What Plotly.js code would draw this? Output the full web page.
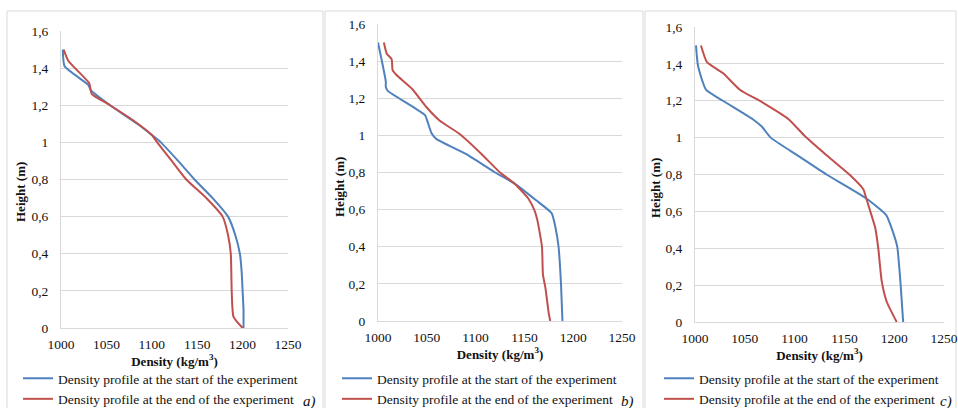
<!DOCTYPE html>
<html>
<head>
<meta charset="utf-8">
<script src="https://cdn.plot.ly/plotly-3.0.1.min.js"></script>
<style>html,body{margin:0;padding:0;background:#fff;}#chart{width:958px;height:408px;}</style>
</head>
<body>
<div id="chart"></div>
<script>
// ---- Data (height in m, density in kg/m3) ----
const seriesNames = ["Density profile at the start of the experiment", "Density profile at the end of the experiment"];
const panelLabels = ["a)", "b)", "c)"];
const xTickVals = [1000, 1050, 1100, 1150, 1200, 1250];
const yTickVals = [0, 0.2, 0.4, 0.6, 0.8, 1, 1.2, 1.4, 1.6];
const yTickText = ["0", "0,2", "0,4", "0,6", "0,8", "1", "1,2", "1,4", "1,6"];
const xTitle = "Density (kg/m<sup>3</sup>)";
const yTitle = "Height (m)";

// Panel a
const aStartH   = [1.5, 1.41, 1.31, 1.28, 1.2, 1.1, 1.04, 1.0, 0.9, 0.8, 0.7, 0.6, 0.5, 0.4, 0.3, 0.2, 0.1, 0];
const aStartRho = [1002, 1004, 1030, 1033, 1054, 1084, 1100, 1110, 1129, 1147, 1167, 1184, 1192, 1197, 1199, 1200, 1201, 1201];
const aEndH     = [1.5, 1.44, 1.32, 1.3, 1.26, 1.2, 1.11, 1.04, 1.0, 0.9, 0.8, 0.7, 0.6, 0.5, 0.4, 0.2, 0.06, 0];
const aEndRho   = [1003, 1008, 1031, 1032, 1034, 1054, 1082, 1100, 1106, 1122, 1138, 1160, 1178, 1184, 1187, 1188, 1190, 1200];

// Panel b
const bStartH   = [1.5, 1.4, 1.29, 1.26, 1.24, 1.11, 1.07, 1.01, 0.98, 0.9, 0.8, 0.74, 0.65, 0.58, 0.5, 0.4, 0.2, 0];
const bStartRho = [1000, 1004, 1008, 1008, 1010, 1048, 1051, 1055, 1060, 1090, 1120, 1140, 1162, 1178, 1182, 1185, 1187.5, 1189];
const bEndH     = [1.5, 1.44, 1.41, 1.35, 1.325, 1.25, 1.15, 1.08, 1.01, 0.9, 0.8, 0.74, 0.66, 0.6, 0.55, 0.4, 0.25, 0.18, 0.04, 0];
const bEndRho   = [1006, 1009, 1014, 1015, 1019, 1035, 1050, 1063, 1083, 1106, 1125, 1140, 1154, 1160, 1163, 1168, 1169, 1171.5, 1175, 1176.5];

// Panel c
const cStartH   = [1.5, 1.39, 1.26, 1.2, 1.1, 1.06, 1.0, 0.9, 0.8, 0.67, 0.58, 0.5, 0.41, 0.2, 0];
const cStartRho = [1001, 1003, 1011, 1028, 1058, 1067, 1076, 1104, 1132, 1172, 1192, 1198, 1203, 1206.5, 1209];
const cEndH     = [1.5, 1.41, 1.35, 1.26, 1.19, 1.1, 1.01, 0.9, 0.8, 0.72, 0.67, 0.6, 0.51, 0.4, 0.22, 0.11, 0];
const cEndRho   = [1006, 1012, 1028, 1045, 1068, 1094, 1110, 1133, 1155, 1169, 1172, 1176, 1181, 1184, 1187.5, 1192.5, 1202.5];

// ---- Styling / layout ----
const W = 958, H = 408;
const blue = "#4F81BD", red = "#C0504D";
const font = "Liberation Serif";
const txt = "#111";
const px = v => v / W, py = v => 1 - v / H;

const panels = [
  {start: [aStartRho, aStartH], end: [aEndRho, aEndH], x: [61, 288], y: [31, 328], leg: 18, lab: 309, box: [7, 323], yt: [20, 192]},
  {start: [bStartRho, bStartH], end: [bEndRho, bEndH], x: [378, 622], y: [24, 321], leg: 337, lab: 627, box: [325, 643], yt: [340, 187]},
  {start: [cStartRho, cStartH], end: [cEndRho, cEndH], x: [695, 944], y: [27, 322], leg: 659, lab: 946, box: [645, 956], yt: [656, 188]}
];

const traces = [];
const layout = {
  width: W, height: H,
  margin: {l: 0, r: 0, t: 0, b: 0, autoexpand: false},
  paper_bgcolor: "#fff", plot_bgcolor: "#fff",
  font: {family: font, color: txt, size: 13},
  showlegend: true,
  annotations: [], shapes: []
};

panels.forEach((p, i) => {
  const s = i === 0 ? "" : String(i + 1);
  const legName = "legend" + s;
  traces.push({
    x: p.start[0], y: p.start[1], xaxis: "x" + s, yaxis: "y" + s,
    type: "scatter", mode: "lines", name: seriesNames[0], legend: legName,
    line: {color: blue, width: 2, shape: "spline", smoothing: 0.5}
  });
  traces.push({
    x: p.end[0], y: p.end[1], xaxis: "x" + s, yaxis: "y" + s,
    type: "scatter", mode: "lines", name: seriesNames[1], legend: legName,
    line: {color: red, width: 2, shape: "spline", smoothing: 0.5}
  });
  layout["xaxis" + s] = {
    domain: [px(p.x[0]), px(p.x[1])], anchor: "y" + s,
    range: [1000, 1250], tickmode: "array", tickvals: xTickVals,
    showgrid: false, zeroline: false, showline: true, linecolor: "#D9D9D9", linewidth: 1,
    ticks: "outside", ticklen: 4, tickcolor: "rgba(0,0,0,0)",
    tickfont: {family: font, size: 13.5, color: txt},
    title: {text: "<b>" + xTitle + "</b>", font: {family: font, size: 13, color: txt}, standoff: 1}
  };
  layout["yaxis" + s] = {
    domain: [py(p.y[1]), py(p.y[0])], anchor: "x" + s,
    range: [0, 1.6], tickmode: "array", tickvals: yTickVals, ticktext: yTickText,
    showgrid: true, gridcolor: "#D9D9D9", gridwidth: 1,
    zeroline: false, showline: true, linecolor: "#D9D9D9", linewidth: 1,
    ticks: "outside", ticklen: 9, tickcolor: "rgba(0,0,0,0)",
    tickfont: {family: font, size: 13.5, color: txt}
  };
  layout[legName] = {
    x: px(p.leg), y: py(363), xanchor: "left", yanchor: "top",
    bgcolor: "rgba(0,0,0,0)", borderwidth: 0,
    font: {family: font, size: 13.5, color: txt},
    tracegroupgap: 0
  };
  // y-axis title (placed where the reference shows it)
  layout.annotations.push({
    xref: "paper", yref: "paper", x: px(p.yt[0]), y: py(p.yt[1]),
    xanchor: "center", yanchor: "middle", showarrow: false, textangle: -90,
    text: "<b>" + yTitle + "</b>", font: {family: font, size: 13, color: txt}
  });
  layout.annotations.push({
    xref: "paper", yref: "paper", x: px(p.lab), y: py(401),
    xanchor: "center", yanchor: "middle", showarrow: false,
    text: "<i>" + panelLabels[i] + "</i>", font: {family: font, size: 15, color: txt}
  });
  layout.shapes.push({
    type: "rect", xref: "paper", yref: "paper",
    x0: px(p.box[0]), x1: px(p.box[1]), y0: -0.1, y1: py(11),
    line: {color: "#D9D9D9", width: 1}, fillcolor: "rgba(0,0,0,0)", layer: "below"
  });
});

Plotly.newPlot("chart", traces, layout, {staticPlot: true, displayModeBar: false});
</script>
</body>
</html>
